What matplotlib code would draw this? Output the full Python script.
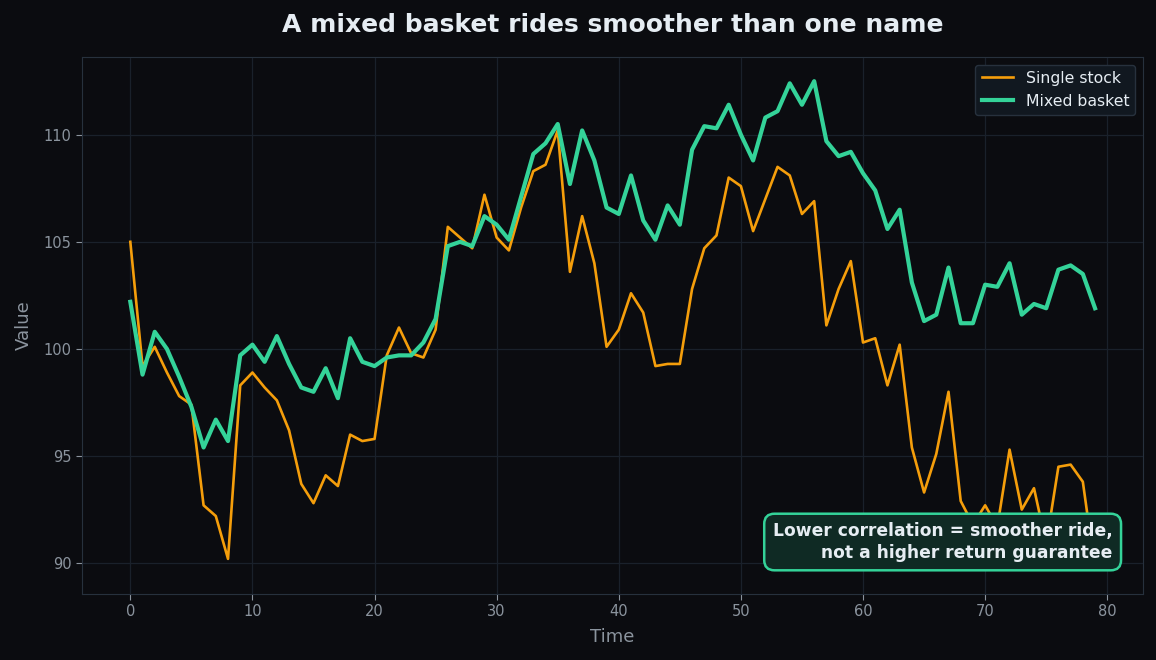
import matplotlib
matplotlib.use("Agg")
import matplotlib.pyplot as plt

# values, one per time step (0..79)
single_stock = [
    105.0, 99.2, 100.1, 98.9, 97.8, 97.4, 92.7, 92.2, 90.2, 98.3,
    98.9, 98.2, 97.6, 96.2, 93.7, 92.8, 94.1, 93.6, 96.0, 95.7,
    95.8, 99.7, 101.0, 99.8, 99.6, 100.9, 105.7, 105.2, 104.7, 107.2,
    105.2, 104.6, 106.6, 108.3, 108.6, 110.2, 103.6, 106.2, 104.0, 100.1,
    100.9, 102.6, 101.7, 99.2, 99.3, 99.3, 102.8, 104.7, 105.3, 108.0,
    107.6, 105.5, 107.0, 108.5, 108.1, 106.3, 106.9, 101.1, 102.8, 104.1,
    100.3, 100.5, 98.3, 100.2, 95.4, 93.3, 95.1, 98.0, 92.9, 91.8,
    92.7, 91.7, 95.3, 92.5, 93.5, 90.9, 94.5, 94.6, 93.8, 89.7,
]
mixed_basket = [
    102.2, 98.8, 100.8, 100.0, 98.7, 97.3, 95.4, 96.7, 95.7, 99.7,
    100.2, 99.4, 100.6, 99.3, 98.2, 98.0, 99.1, 97.7, 100.5, 99.4,
    99.2, 99.6, 99.7, 99.7, 100.3, 101.4, 104.8, 105.0, 104.8, 106.2,
    105.8, 105.1, 107.1, 109.1, 109.6, 110.5, 107.7, 110.2, 108.8, 106.6,
    106.3, 108.1, 106.0, 105.1, 106.7, 105.8, 109.3, 110.4, 110.3, 111.4,
    110.0, 108.8, 110.8, 111.1, 112.4, 111.4, 112.5, 109.7, 109.0, 109.2,
    108.2, 107.4, 105.6, 106.5, 103.1, 101.3, 101.6, 103.8, 101.2, 101.2,
    103.0, 102.9, 104.0, 101.6, 102.1, 101.9, 103.7, 103.9, 103.5, 101.9,
]
time = list(range(len(single_stock)))

bg = "#0b0c10"
grid_c = "#1a212b"
spine_c = "#27313d"
muted = "#8b949e"
light = "#e6edf3"
orange = "#f59e0b"
green = "#34d399"

fig, ax = plt.subplots(figsize=(11.56, 6.6), dpi=100)
fig.patch.set_facecolor(bg)
ax.set_facecolor(bg)
fig.subplots_adjust(left=0.071, right=0.989, top=0.914, bottom=0.1)

ax.plot(time, single_stock, color=orange, linewidth=1.9, label="Single stock")
ax.plot(time, mixed_basket, color=green, linewidth=3.0, label="Mixed basket")

ax.set_title("A mixed basket rides smoother than one name", fontsize=18,
             weight="bold", color=light, pad=17.5)
ax.set_xlabel("Time", fontsize=13, color=muted, labelpad=6)
ax.set_ylabel("Value", fontsize=13, color=muted, labelpad=8)
ax.tick_params(colors=muted, labelsize=10.5, length=4)
for s in ax.spines.values():
    s.set_color(spine_c)
ax.grid(True, color=grid_c, linewidth=0.9)
ax.set_axisbelow(True)

leg = ax.legend(loc="upper right", fontsize=11.3, facecolor="#111820",
                edgecolor=spine_c, framealpha=1.0)
for t in leg.get_texts():
    t.set_color(light)

ax.text(0.971, 0.06, "Lower correlation = smoother ride,\nnot a higher return guarantee",
        transform=ax.transAxes, ha="right", va="bottom", fontsize=12.3,
        weight="bold", color=light, linespacing=1.25, zorder=5,
        bbox=dict(boxstyle="round,pad=0.5,rounding_size=0.6", facecolor="#0f2a24",
                  edgecolor=green, linewidth=1.8))

plt.savefig("out.png", dpi=100, facecolor=bg)
